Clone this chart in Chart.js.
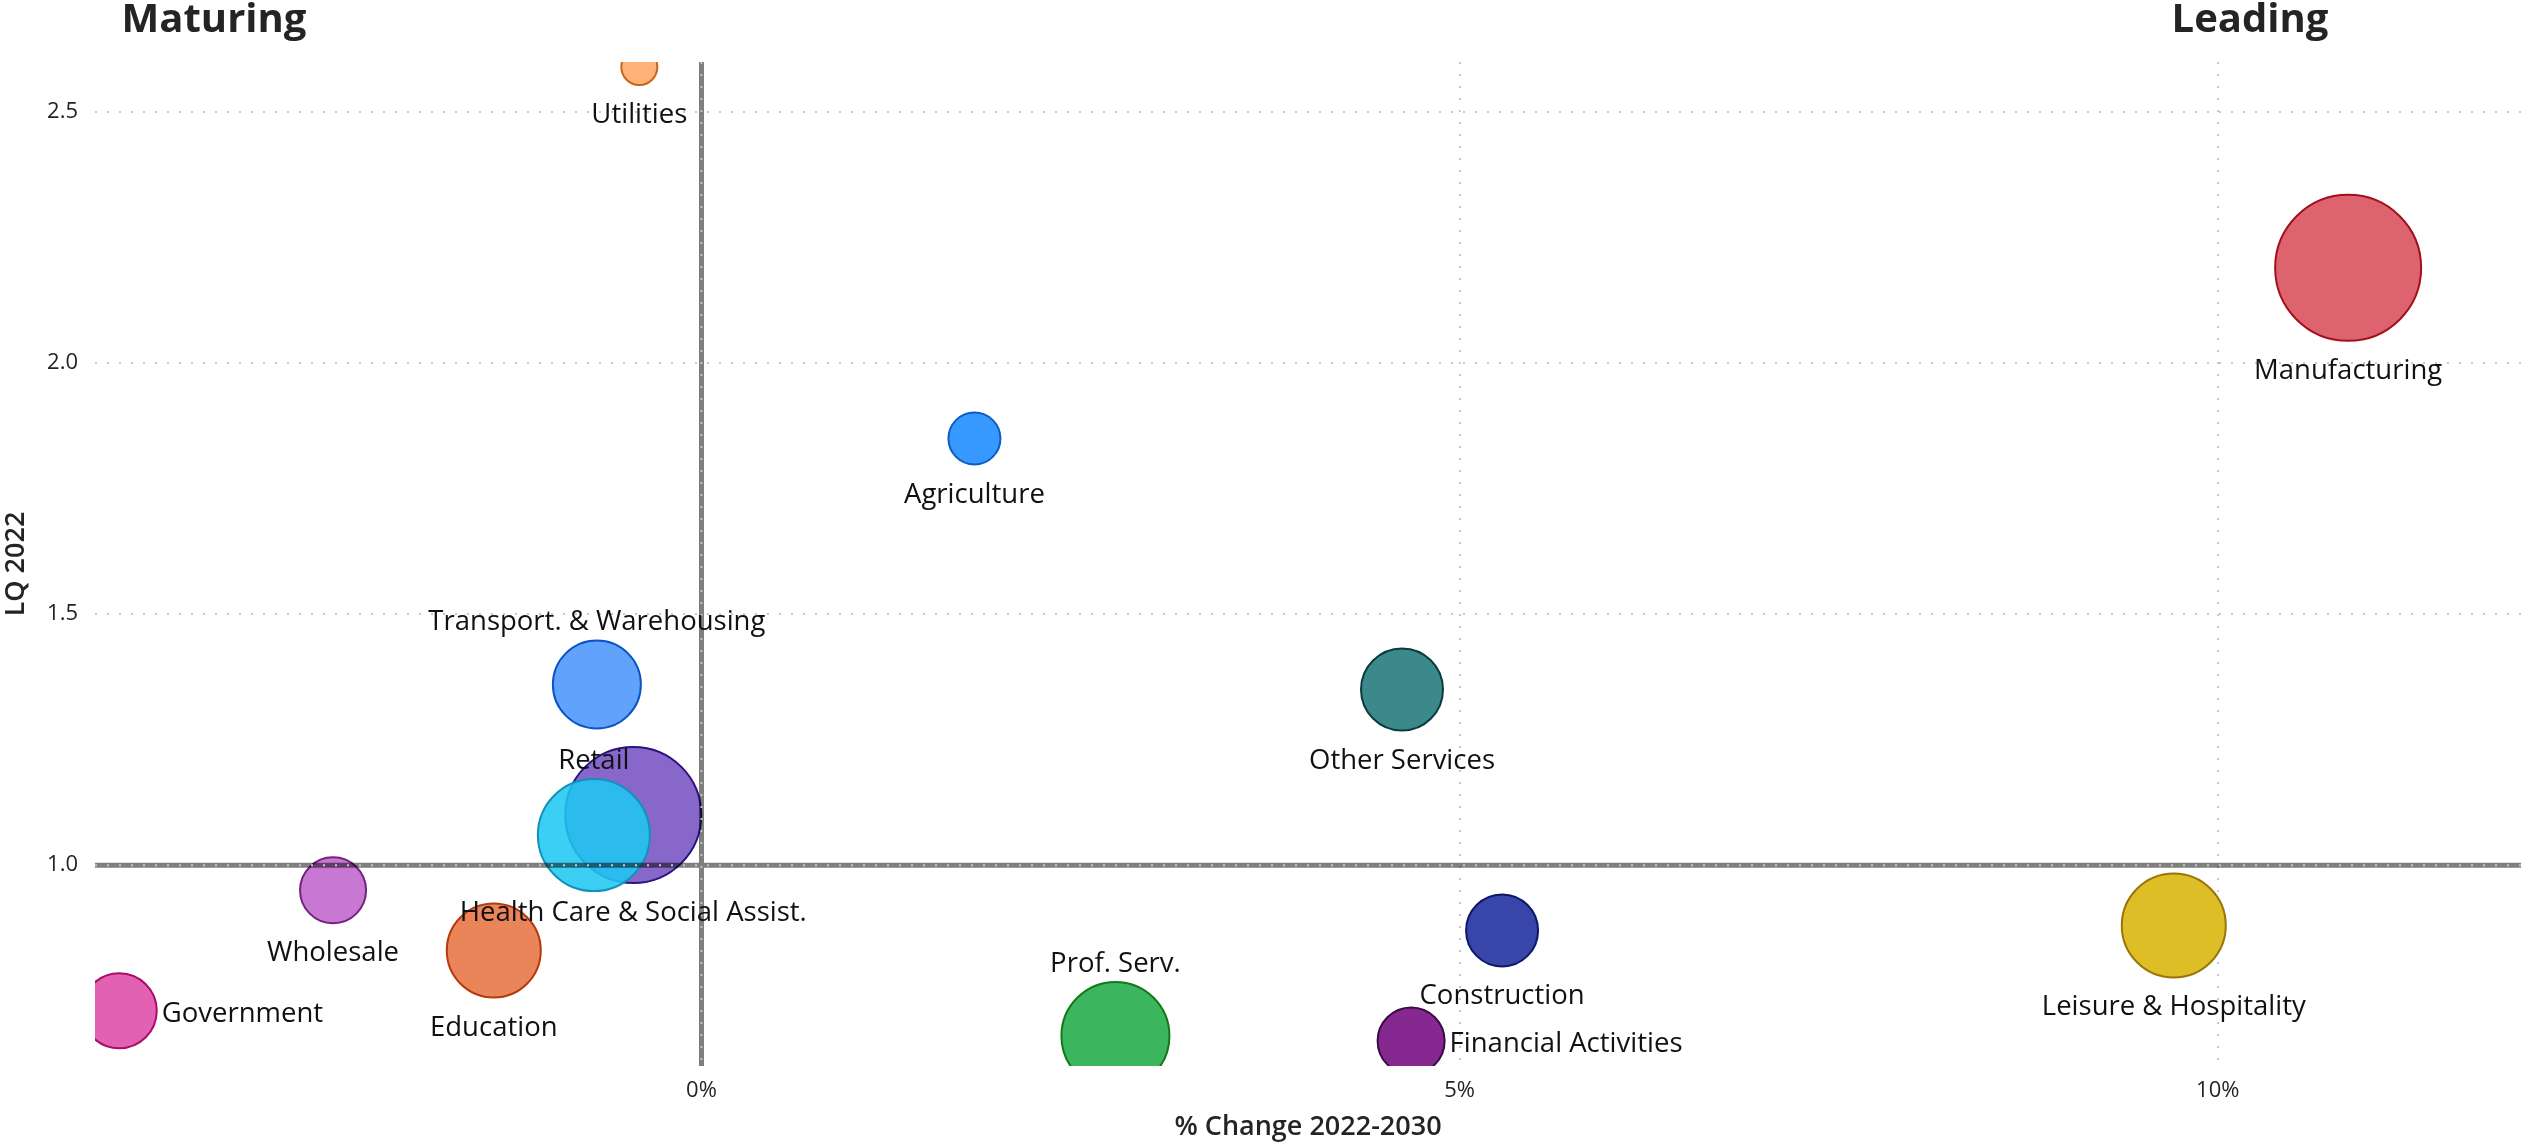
<!DOCTYPE html>
<html>
<head>
<meta charset="utf-8">
<script src="https://cdn.jsdelivr.net/npm/chart.js@4.4.1/dist/chart.umd.min.js"></script>
<style>
  html, body { margin: 0; padding: 0; background: #ffffff; }
  #wrap { width: 2530px; height: 1147px; position: relative; }
</style>
</head>
<body>
<div id="wrap"><canvas id="chart"></canvas></div>
<script>
// Industry growth vs. location quotient
const industries = ['Utilities', 'Manufacturing', 'Agriculture', 'Transport. & Warehousing',
  'Health Care & Social Assist.', 'Retail', 'Other Services', 'Wholesale', 'Education',
  'Government', 'Prof. Serv.', 'Construction', 'Financial Activities', 'Leisure & Hospitality'];
const pctChange = [-0.41, 10.86, 1.80, -0.69, -0.45, -0.71, 4.62, -2.43, -1.37, -3.84, 2.73, 5.28, 4.68, 9.71];
const lq2022 = [2.59, 2.19, 1.85, 1.36, 1.10, 1.06, 1.35, 0.95, 0.83, 0.71, 0.66, 0.87, 0.65, 0.88];
const bubbleSize = [18, 73, 26, 44, 68, 56, 41, 33, 47, 37.5, 54, 36, 33.5, 52];

const xTickValues = [0, 5, 10];
const yTickValues = [1.0, 1.5, 2.0, 2.5];
const quadrantNames = ['Maturing', 'Leading'];

// fill / outline per industry
const fillColors = ['rgba(255,168,105,0.9)', 'rgba(218,88,100,0.93)', 'rgba(40,145,255,0.93)', 'rgba(80,152,252,0.9)',
  'rgba(120,82,195,0.88)', 'rgba(30,200,242,0.87)', 'rgba(45,128,130,0.93)', 'rgba(194,104,206,0.9)', 'rgba(232,120,72,0.9)',
  'rgba(224,80,170,0.9)', 'rgba(42,176,80,0.92)', 'rgba(40,54,162,0.92)', 'rgba(124,24,136,0.93)', 'rgba(218,184,20,0.92)'];
const borderColors = ['#c7651a', '#a30f1c', '#0b5cc4', '#0b55c2', '#2a1280', '#1292b8', '#0c3b3c', '#74207f', '#b33a0e',
  '#a80d68', '#117a16', '#0d1766', '#3c0b47', '#9a7406'];
const labelSide = ['below', 'below', 'below', 'above', 'below', 'above', 'below', 'below', 'below',
  'right', 'above', 'below', 'right', 'below'];

const points = industries.map((name, i) => ({ x: pctChange[i], y: lq2022[i], r: bubbleSize[i] }));

const GRID = '#c8c8c8';
const REF = 'rgba(0,0,0,0.5)';
const DOTS = [2, 10];

// thick reference lines at 0% and LQ 1.0, drawn over the bubbles
const refLines = {
  id: 'refLines',
  afterDatasetsDraw(chart) {
    const { ctx, chartArea: a, scales: { x, y } } = chart;
    const x0 = x.getPixelForValue(0);
    const y1 = y.getPixelForValue(1.0);
    ctx.save();
    ctx.strokeStyle = REF;
    ctx.lineWidth = 5;
    ctx.beginPath();
    ctx.moveTo(a.left, y1); ctx.lineTo(a.right, y1);
    ctx.moveTo(x0, a.top); ctx.lineTo(x0, a.bottom);
    ctx.stroke();
    // dotted grid shows through on top
    ctx.strokeStyle = GRID;
    ctx.lineWidth = 2;
    ctx.setLineDash(DOTS);
    ctx.beginPath();
    ctx.moveTo(a.left, y1); ctx.lineTo(a.right, y1);
    ctx.moveTo(x0, a.top); ctx.lineTo(x0, a.bottom);
    ctx.stroke();
    ctx.restore();
  }
};

// industry names next to each bubble
const bubbleLabels = {
  id: 'bubbleLabels',
  afterDatasetsDraw(chart) {
    const { ctx } = chart;
    const meta = chart.getDatasetMeta(0);
    ctx.save();
    ctx.font = '27.5px "Open Sans"';
    ctx.fillStyle = '#111111';
    meta.data.forEach((el, i) => {
      const { x, y } = el.getProps(['x', 'y'], true);
      const r = el.options.radius;
      const side = labelSide[i];
      if (side === 'above') {
        ctx.textAlign = 'center'; ctx.textBaseline = 'alphabetic';
        ctx.fillText(industries[i], x, y - r - 10);
      } else if (side === 'right') {
        ctx.textAlign = 'left'; ctx.textBaseline = 'middle';
        ctx.fillText(industries[i], x + r + 5, y + 3);
      } else {
        ctx.textAlign = 'center'; ctx.textBaseline = 'alphabetic';
        ctx.fillText(industries[i], x, y + r + 38);
      }
    });
    ctx.restore();
  }
};

// quadrant headings above the plot
const quadrantTitles = {
  id: 'quadrantTitles',
  afterDraw(chart) {
    const { ctx, chartArea: a } = chart;
    ctx.save();
    ctx.font = 'bold 40px "Open Sans"';
    ctx.fillStyle = '#252423';
    ctx.textAlign = 'center';
    ctx.textBaseline = 'middle';
    ctx.fillText(quadrantNames[0], a.left + 119, 21);
    ctx.fillText(quadrantNames[1], a.right - 271, 21);
    ctx.restore();
  }
};

new Chart(document.getElementById('chart'), {
  type: 'bubble',
  data: {
    datasets: [{
      data: points,
      backgroundColor: fillColors,
      borderColor: borderColors,
      borderWidth: 2,
      hoverBorderWidth: 2,
      clip: 0
    }]
  },
  options: {
    responsive: true,
    maintainAspectRatio: false,
    animation: false,
    events: [],
    layout: { autoPadding: false, padding: { top: 62, right: 9, left: 0, bottom: 0 } },
    plugins: { legend: { display: false }, tooltip: { enabled: false } },
    scales: {
      x: {
        type: 'linear',
        min: -4, max: 12,
        afterBuildTicks: s => { s.ticks = xTickValues.map(v => ({ value: v })); },
        afterFit: s => { s.height = 81; s.paddingLeft = 0; s.paddingRight = 0; },
        border: { display: false, dash: DOTS },
        grid: { color: GRID, lineWidth: 2, drawTicks: false },
        ticks: { padding: 12, color: '#252423', font: { family: 'Open Sans', size: 22 }, callback: v => v + '%' },
        title: { display: true, text: '% Change 2022-2030', color: '#252423',
          font: { family: 'Open Sans', size: 27, weight: '600' }, padding: { top: 0, bottom: 3 } }
      },
      y: {
        type: 'linear',
        min: 0.6, max: 2.6,
        afterBuildTicks: s => { s.ticks = yTickValues.map(v => ({ value: v })); },
        afterFit: s => { s.width = 95; s.paddingTop = 0; s.paddingBottom = 0; },
        border: { display: false, dash: DOTS },
        grid: { color: GRID, lineWidth: 2, drawTicks: false },
        ticks: { padding: 17, color: '#252423', font: { family: 'Open Sans', size: 22 }, callback: v => v.toFixed(1) },
        title: { display: true, text: 'LQ 2022', color: '#252423',
          font: { family: 'Open Sans', size: 27, weight: '600' }, padding: { top: 0, bottom: 0 } }
      }
    }
  },
  plugins: [refLines, bubbleLabels, quadrantTitles]
});
</script>
</body>
</html>
